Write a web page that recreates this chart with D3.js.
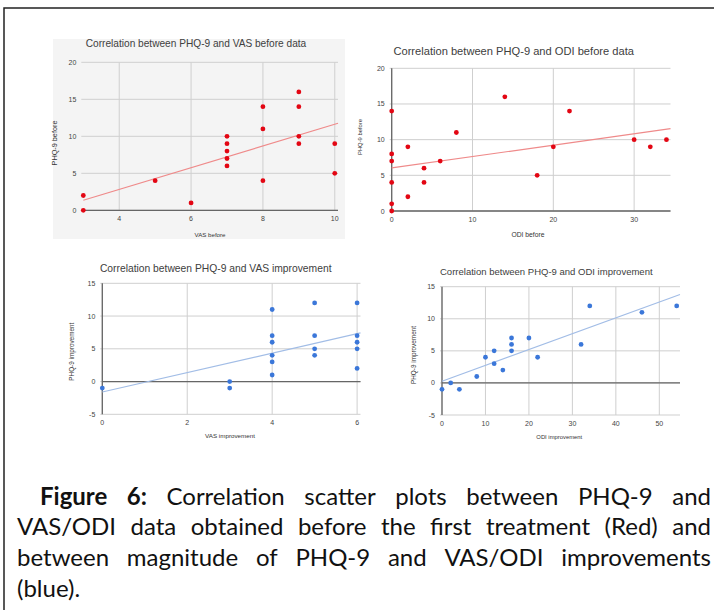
<!DOCTYPE html>
<html lang="en">
<head>
<meta charset="UTF-8">
<title>Figure 6</title>
<style>
  body, html { margin: 0; padding: 0; background: #fff; }
  svg { display: block; }
</style>
</head>
<body>
<svg id="svg" width="714" height="610"></svg>
<script src="https://d3js.org/d3.v7.min.js"></script>
<script>
// values
const vasBefore      = [3, 3, 5, 6, 7, 7, 7, 7, 7, 8, 8, 8, 9, 9, 9, 9, 10, 10]
const phqBeforeVas   = [2, 0, 4, 1, 10, 9, 8, 7, 6, 14, 11, 4, 16, 14, 10, 9, 9, 5]

const odiBefore      = [0, 0, 0, 0, 0, 0, 2, 2, 4, 4, 6, 8, 14, 18, 20, 22, 30, 32, 34]
const phqBeforeOdi   = [14, 8, 7, 4, 1, 0, 9, 2, 6, 4, 7, 11, 16, 5, 9, 14, 10, 9, 10]

const vasImprovement = [0, 3, 3, 4, 4, 4, 4, 4, 4, 5, 5, 5, 5, 6, 6, 6, 6, 6]
const phqImprVas     = [-1, 0, -1, 11, 7, 6, 4, 3, 1, 12, 7, 5, 4, 12, 7, 6, 5, 2]

const odiImprovement = [0, 2, 4, 8, 10, 12, 12, 14, 16, 16, 16, 20, 22, 32, 34, 46, 54]
const phqImprOdi     = [-1, 0, -1, 1, 4, 5, 3, 2, 7, 6, 5, 7, 4, 6, 12, 11, 12]

const beforeYTicks = [0, 5, 10, 15, 20]
const imprYTicks   = [-5, 0, 5, 10, 15]

const captionLines = [
  [['Figure', true], ['6:', true], 'Correlation', 'scatter', 'plots', 'between', 'PHQ-9', 'and'],
  ['VAS/ODI', 'data', 'obtained', 'before', 'the', 'first', 'treatment', '(Red)', 'and'],
  ['between', 'magnitude', 'of', 'PHQ-9', 'and', 'VAS/ODI', 'improvements'],
  ['(blue).']
]

const red = '#e30613', redTrend = '#ef8a8a'
const blue = '#3b77d9', blueTrend = '#a2bde6'

const panels = [
  { title: 'Correlation between PHQ-9 and VAS before data', xLabel: 'VAS before', yLabel: 'PHQ-9 before',
    xs: vasBefore, ys: phqBeforeVas, color: red, trend: redTrend,
    xDomain: [3, 10.09], yDomain: [0, 20], xTicks: [4, 6, 8, 10], yTicks: beforeYTicks,
    px: [83.3, 338], py: [210.3, 62.3], zeroX: false, bg: [53, 39, 292, 200],
    titleAt: [196, 47], titleW: 221, xlAt: [210, 237], xlW: 31, ylAt: [57, 143], ylW: 45 },
  { title: 'Correlation between PHQ-9 and ODI before data', xLabel: 'ODI before', yLabel: 'PHQ-9 before',
    xs: odiBefore, ys: phqBeforeOdi, color: red, trend: redTrend,
    xDomain: [0, 34.5], yDomain: [0, 20], xTicks: [0, 10, 20, 30], yTicks: beforeYTicks,
    px: [391.7, 670.5], py: [211, 68.3], zeroX: true,
    titleAt: [513.7, 55], titleW: 241, xlAt: [528, 236.7], xlW: 33, ylAt: [362, 137], ylW: 36 },
  { title: 'Correlation between PHQ-9 and VAS improvement', xLabel: 'VAS improvement', yLabel: 'PHQ-9 improvement',
    xs: vasImprovement, ys: phqImprVas, color: blue, trend: blueTrend,
    xDomain: [0, 6.08], yDomain: [-5, 15], xTicks: [0, 2, 4, 6], yTicks: imprYTicks,
    px: [102.3, 360.5], py: [414.3, 283.3], zeroX: true,
    titleAt: [215.7, 271.7], titleW: 232, xlAt: [230, 438], xlW: 50, ylAt: [74, 351.7], ylW: 58 },
  { title: 'Correlation between PHQ-9 and ODI improvement', xLabel: 'ODI improvement', yLabel: 'PHQ-9 improvement',
    xs: odiImprovement, ys: phqImprOdi, color: blue, trend: blueTrend,
    xDomain: [0, 54.76], yDomain: [-5, 15], xTicks: [0, 10, 20, 30, 40, 50], yTicks: imprYTicks,
    px: [442, 680], py: [415, 286.7], zeroX: true,
    titleAt: [546.3, 275], titleW: 213, xlAt: [559.3, 439], xlW: 46, ylAt: [415.5, 355], ylW: 58 }
]

const svg = d3.select('#svg')
const chartFont = 'Liberation Sans, Arial, sans-serif'

// least squares line, like the sheets trendline
function fit(xs, ys) {
  const mx = d3.mean(xs), my = d3.mean(ys)
  const sxy = d3.sum(xs, (x, i) => (x - mx) * (ys[i] - my))
  const sxx = d3.sum(xs, x => (x - mx) * (x - mx))
  const slope = sxy / sxx
  return { slope, intercept: my - slope * mx }
}

// add text and shrink/grow its font so it spans the width seen in the picture
function fitText(g, str, x, y, width, opts) {
  const t = g.append('text')
    .attr('x', x).attr('y', y)
    .attr('text-anchor', 'middle')
    .attr('font-family', chartFont)
    .attr('font-size', 10)
    .attr('fill', opts.fill)
    .text(str)
  const w = t.node().getComputedTextLength()
  t.attr('font-size', 10 * width / w)
  if (opts.rotate) t.attr('transform', `rotate(-90,${x},${y})`)
  return t
}

panels.forEach(p => {
  const g = svg.append('g')
  const x = d3.scaleLinear().domain(p.xDomain).range(p.px)
  const y = d3.scaleLinear().domain(p.yDomain).range(p.py)

  if (p.bg) {
    g.append('rect')
      .attr('x', p.bg[0]).attr('y', p.bg[1])
      .attr('width', p.bg[2]).attr('height', p.bg[3])
      .attr('fill', '#f4f4f4')
  }

  // grid
  g.selectAll('.hg').data(p.yTicks).join('line')
    .attr('x1', p.px[0] - 2).attr('x2', p.px[1])
    .attr('y1', d => y(d)).attr('y2', d => y(d))
    .attr('stroke', '#cfcfcf').attr('stroke-width', 1)
  g.selectAll('.vg').data(p.xTicks).join('line')
    .attr('x1', d => x(d)).attr('x2', d => x(d))
    .attr('y1', p.py[0]).attr('y2', p.py[1])
    .attr('stroke', '#cfcfcf').attr('stroke-width', 1)

  // zero lines
  g.append('line')
    .attr('x1', p.px[0]).attr('x2', p.px[1])
    .attr('y1', y(0)).attr('y2', y(0))
    .attr('stroke', '#666').attr('stroke-width', 1.3)
  if (p.zeroX) {
    g.append('line')
      .attr('x1', x(0)).attr('x2', x(0))
      .attr('y1', p.py[0]).attr('y2', p.py[1])
      .attr('stroke', '#666').attr('stroke-width', 1.3)
  }

  // tick labels
  g.selectAll('.yl').data(p.yTicks).join('text')
    .attr('x', p.px[0] - 7).attr('y', d => y(d) + 2.5)
    .attr('text-anchor', 'end')
    .attr('font-family', chartFont).attr('font-size', 7)
    .attr('fill', '#444')
    .text(d => d)
  g.selectAll('.xl').data(p.xTicks).join('text')
    .attr('x', d => x(d)).attr('y', p.py[0] + 11)
    .attr('text-anchor', 'middle')
    .attr('font-family', chartFont).attr('font-size', 7)
    .attr('fill', '#444')
    .text(d => d)

  // trendline across the plot
  const tr = fit(p.xs, p.ys)
  const line = d3.line().x(d => x(d)).y(d => y(tr.intercept + tr.slope * d))
  g.append('path')
    .attr('d', line(p.xDomain))
    .attr('fill', 'none')
    .attr('stroke', p.trend)
    .attr('stroke-width', 1.2)

  // points
  g.selectAll('circle').data(p.xs).join('circle')
    .attr('cx', d => x(d))
    .attr('cy', (d, i) => y(p.ys[i]))
    .attr('r', 2.4)
    .attr('fill', p.color)

  fitText(g, p.title, p.titleAt[0], p.titleAt[1], p.titleW, { fill: '#404040' })
  fitText(g, p.xLabel, p.xlAt[0], p.xlAt[1], p.xlW, { fill: '#333' })
  fitText(g, p.yLabel, p.ylAt[0], p.ylAt[1], p.ylW, { fill: '#333', rotate: true })
})

// caption, justified like the paper
const capFont = 'Lato, "Open Sans", sans-serif'
const capSize = 24
const capLeft = [40, 17, 17, 17]
const capBase = [505, 535, 566, 597]
const capRight = 711

captionLines.forEach((words, li) => {
  const items = words.map(w => Array.isArray(w) ? { s: w[0], b: w[1] } : { s: w, b: false })
  const texts = items.map(it => svg.append('text')
    .attr('y', capBase[li])
    .attr('font-family', capFont)
    .attr('font-size', capSize)
    .attr('font-weight', it.b ? 700 : 400)
    .attr('fill', '#111')
    .text(it.s))
  const widths = texts.map(t => t.node().getComputedTextLength())
  const last = li === captionLines.length - 1
  const gap = last ? 6 : (capRight - capLeft[li] - d3.sum(widths)) / (items.length - 1)
  let cx = capLeft[li]
  texts.forEach((t, i) => {
    t.attr('x', cx)
    cx += widths[i] + gap
  })
})

// frame round the figure
svg.append('rect')
  .attr('x', 4).attr('y', 8)
  .attr('width', 730).attr('height', 630)
  .attr('fill', 'none')
  .attr('stroke', '#222')
  .attr('stroke-width', 1.5)
</script>
</body>
</html>
